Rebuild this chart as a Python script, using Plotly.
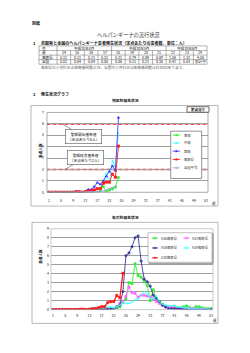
import plotly.graph_objects as go

W, H = 250, 353
FONT = "Noto Sans CJK JP"

# ---------------- data ----------------
table_weeks = [14, 15, 16, 17, 18, 19, 20, 21, 22, 23, 24]
table_months = ["平成30年4月", "平成30年5月", "平成30年6月"]
table_month_spans = [4, 4, 3]
table_row_labels = ["月", "週", "鳥取県", "全国"]
table_tottori = ["0.11", "0.11", "0.21", "0.32", "0.32", "0.79", "0.89", "0.89", "1.58", "1.32", "4.05"]
table_national = ["0.02", "0.04", "0.04", "0.05", "0.06", "0.11", "0.21", "0.35", "0.42", "0.53", "集計中"]

weeks_2018 = list(range(1, 25))
east = [0, 0, 0, 0, 0, 0, 0, 0, 0, 0, 0, 0, 0, 0, 0, 0, 0, 0.1, 0.5, 0.05, 0.2, 0.3, 0.45, 1.3]
middle = [0, 0, 0, 0, 0, 0, 0, 0, 0, 0, 0, 0, 0, 0.1, 0.1, 0.2, 0.3, 0.4, 0.8, 1.7, 0.8, 2.8, 2.2, 5.2]
west = [0, 0, 0, 0, 0, 0, 0, 0, 0, 0.1, 0, 0, 0.1, 0.25, 0.25, 0.5, 0.85, 0.7, 1.0, 1.4, 1.8, 2.3, 1.9, 6.55]
tottori = [0, 0, 0, 0, 0, 0, 0, 0, 0, 0.05, 0.05, 0, 0.05,
           0.11, 0.11, 0.21, 0.32, 0.32, 0.79, 0.89, 0.89, 1.58, 1.32, 4.05]
national = [0.02, 0.01, 0.01, 0.01, 0.01, 0.01, 0.01, 0.01, 0.01, 0.01, 0.01, 0.01, 0.02,
            0.02, 0.04, 0.04, 0.05, 0.06, 0.11, 0.21, 0.35, 0.42, 0.53, None]
region_names = ["東部", "中部", "西部", "鳥取県", "全国平均"]
region_colors = ["#33ee33", "#44ffff", "#3f3fff", "#ff1a1a", "#a8a8e8"]
region_symbols = ["diamond", "x-thin-open", "triangle-up", "square", "line-ew-open"]

alert_start = 6
alert_end = 2

weeks_all = list(range(1, 54))
h26 = [0] * 13 + [0, 0, 0, 0, 0.05, 0.05, 0.1, 0.1, 0.2, 0.3, 0.8, 1.2, 3.0, 2.9, 5.1, 3.8, 3.6,
                  3.2, 2.7, 1.0, 2.2, 1.2, 0.9, 0.6, 0.4, 0.3, 0.3, 0.2, 0.2, 0.2, 0.3, 0.4, 0.2,
                  0.1, 0.3, 0.3, 0.2, 0.1, 0.1, 0.1]
h27 = [0] * 13 + [0, 0, 0, 0, 0, 0, 0, 0.1, 0.3, 0.7, 0.9, 1.5, 2.5, 1.9, 1.8, 1.4, 1.6,
                  1.6, 1.5, 1.4, 1.2, 0.9, 0.7, 0.5, 0.3, 0.3, 0.2, 0.2, 0.1, 0.1, 0.1, 0.1, 0.1,
                  0.1, 0.05, 0.05, 0.05, 0.05, 0, 0]
h28 = [0] * 13 + [0, 0, 0, 0, 0, 0.05, 0.05, 0.1, 0.3, 0.5, 2.0, 6.0, 6.3, 7.0, 8.0, 8.2, 5.4,
                  3.4, 3.1, 2.6, 1.6, 1.3, 0.9, 0.5, 0.3, 0.1, 0.1, 0.1, 0.1, 0.05, 0.05, 0, 0,
                  0, 0, 0, 0, 0, 0, 0]
h29 = [0] * 12 + [0.05, 0.1, 0.1, 0.1, 0.2, 0.2, 0.3, 0.3, 0.2, 0.3, 0.5, 0.8, 0.7, 0.7, 0.8, 1.1,
                  1.1, 1.6, 2.0, 1.7, 1.3, 1.2, 1.5, 0.9, 0.6, 0.5, 0.4, 0.4, 0.5, 0.3, 0.3, 0.2,
                  0.2, 0.1, 0.1, 0.1, 0.1, 0.1, 0.05, 0.05, 0]
h30 = tottori
year_names = ["H26鳥取県", "H27鳥取県", "H28鳥取県", "H29鳥取県", "H30鳥取県"]
year_colors = ["#33ee33", "#ff66ff", "#3a3a99", "#44ffff", "#ff1a1a"]
year_symbols = ["square", "square", "diamond", "x-thin-open", "square"]

xticks = list(range(1, 54, 4))


def px(x):
    return x / W


def py(y):
    return 1 - y / H


fig = go.Figure()

# ---------------- chart 1 traces ----------------
for name, vals, col, sym in zip(region_names, [east, middle, west, tottori, national],
                                region_colors, region_symbols):
    fig.add_trace(go.Scatter(x=weeks_2018, y=vals, mode="lines+markers", name=name,
                             line=dict(color=col, width=0.9),
                             marker=dict(color=col, size=2.4, symbol=sym, line=dict(width=0.6, color=col)),
                             xaxis="x", yaxis="y", showlegend=False))

# ---------------- chart 2 traces ----------------
for name, vals, col, sym in zip(year_names, [h26, h27, h28, h29, h30], year_colors, year_symbols):
    xs = weeks_all[:len(vals)]
    fig.add_trace(go.Scatter(x=xs, y=vals, mode="lines+markers", name=name,
                             line=dict(color=col, width=1.3 if name.startswith("H30") else 0.9),
                             marker=dict(color=col, size=2.2, symbol=sym, line=dict(width=0.6, color=col)),
                             xaxis="x2", yaxis="y2", showlegend=False))

shapes = []
ann = []


def text(x, y, s, size=4, xanchor="left", color="#111", bold=False, yanchor="middle"):
    if bold:
        s = "<b>" + s + "</b>"
    ann.append(dict(x=px(x), y=py(y), xref="paper", yref="paper", text=s, showarrow=False,
                    xanchor=xanchor, yanchor=yanchor, font=dict(family=FONT, size=size, color=color)))


def line(x0, y0, x1, y1, color="#777", width=0.6, dash="solid"):
    shapes.append(dict(type="line", xref="paper", yref="paper", x0=px(x0), y0=py(y0), x1=px(x1), y1=py(y1),
                       line=dict(color=color, width=width, dash=dash)))


def rect(x0, y0, x1, y1, color="#888", width=0.6, fill="rgba(0,0,0,0)"):
    shapes.append(dict(type="rect", xref="paper", yref="paper", x0=px(x0), y0=py(y0), x1=px(x1), y1=py(y1),
                       line=dict(color=color, width=width), fillcolor=fill, layer="above"))


# ---------------- header texts ----------------
text(30, 20, "別紙", size=4, bold=True)
text(128, 32, "ヘルパンギーナの流行状況", size=5.2, xanchor="center", color="#333")
text(31, 40.5, "1", size=4, bold=True)
text(38.5, 40.5, "鳥取県と全国のヘルパンギーナ患者発生状況（定点あたりの患者数、単位：人）", size=4.05, bold=True)

# ---------------- table ----------------
tx0, tx1 = 39, 207
lab_w = 18
col_w = (tx1 - tx0 - lab_w) / len(table_weeks)
ty0, row_h = 43.5, 4.65
nrows = len(table_row_labels)
ty1 = ty0 + row_h * nrows
for i in range(nrows + 1):
    line(tx0, ty0 + i * row_h, tx1, ty0 + i * row_h, color="#666", width=0.5)
line(tx0, ty0, tx0, ty1, color="#666", width=0.5)
line(tx1, ty0, tx1, ty1, color="#666", width=0.5)
line(tx0 + lab_w, ty0, tx0 + lab_w, ty1, color="#666", width=0.5)
month_bounds = []
acc = 0
for s in table_month_spans:
    acc += s
    month_bounds.append(acc)
for j in range(1, len(table_weeks)):
    xx = tx0 + lab_w + j * col_w
    if j in month_bounds:
        line(xx, ty0, xx, ty1, color="#666", width=0.5)
    else:
        line(xx, ty0 + row_h, xx, ty1, color="#666", width=0.5)
for i, lab in enumerate(table_row_labels):
    cy = ty0 + (i + 0.5) * row_h
    text(tx0 + 1.2, cy, lab, size=3.6, xanchor="left")
start = 0
for m, s in zip(table_months, table_month_spans):
    cx = tx0 + lab_w + (start + s / 2) * col_w
    text(cx, ty0 + 0.5 * row_h, m, size=3.6, xanchor="center")
    start += s
for j, (wk, a, b) in enumerate(zip(table_weeks, table_tottori, table_national)):
    cx = tx0 + lab_w + (j + 0.5) * col_w
    text(cx, ty0 + 1.5 * row_h, str(wk), size=3.6, xanchor="center")
    text(cx, ty0 + 2.5 * row_h, a, size=3.6, xanchor="center")
    text(cx, ty0 + 3.5 * row_h, b, size=3.6, xanchor="center")
text(39, 65.5, "鳥取県の小児科定点医療機関数は19、全国の小児科定点医療機関数は約3000あります。",
     size=3.7, color="#666")

# ---------------- section 2 ----------------
text(31, 92, "2", size=4, bold=True)
text(38.5, 92, "発生状況グラフ", size=4, bold=True)
text(125, 98.5, "地区別発生状況", size=3.8, xanchor="center", bold=True)
text(125, 217.5, "年次別発生状況", size=3.8, xanchor="center", bold=True)

# outer frames
rect(31, 104, 218, 206, color="#999", width=0.7)
rect(32, 222.5, 218, 325, color="#999", width=0.7)

# chart 1 plot border
shapes.append(dict(type="rect", xref="x domain", yref="y domain", x0=0, y0=0, x1=1, y1=1,
                   line=dict(color="#888", width=0.7), layer="above"))
shapes.append(dict(type="rect", xref="x2 domain", yref="y2 domain", x0=0, y0=0, x1=1, y1=1,
                   line=dict(color="#aaa", width=0.6), layer="above"))

# alert lines
for lv in [alert_start, alert_end]:
    shapes.append(dict(type="line", xref="x domain", yref="y", x0=0, x1=1, y0=lv, y1=lv,
                       line=dict(color="#ffb3b3", width=1.6), layer="below"))
    shapes.append(dict(type="line", xref="x domain", yref="y", x0=0, x1=1, y0=lv, y1=lv,
                       line=dict(color="#ff2a2a", width=1.6, dash="3px,3px"), layer="below"))

# callouts
ann.append(dict(x=5.3, y=alert_start, xref="x", yref="y", ax=22, ay=13, showarrow=True, arrowhead=0,
                arrowwidth=0.6, arrowcolor="#555",
                text="警報開始基準値<br>（定点あたり6人）", font=dict(family=FONT, size=3.7, color="#111"),
                bgcolor="white", bordercolor="#555", borderwidth=0.6, borderpad=2.2, align="center"))
ann.append(dict(x=6.3, y=alert_end, xref="x", yref="y", ax=20, ay=-12, showarrow=True, arrowhead=0,
                arrowwidth=0.6, arrowcolor="#555",
                text="警報終息基準値<br>（定点あたり2人）", font=dict(family=FONT, size=3.7, color="#111"),
                bgcolor="white", bordercolor="#555", borderwidth=0.6, borderpad=2.2, align="center"))

# 定点当り box
rect(187, 105.2, 209, 110.8, color="#444", width=0.8, fill="white")
text(198, 108, "定点当り", size=3.5, xanchor="center", bold=True)

# axis titles
ann.append(dict(x=px(36.5), y=py(150), xref="paper", yref="paper", text="<b>患者人数</b>", textangle=-90,
                showarrow=False, font=dict(family=FONT, size=3.6, color="#111")))
ann.append(dict(x=px(36.5), y=py(267), xref="paper", yref="paper", text="<b>患者人数</b>", textangle=-90,
                showarrow=False, font=dict(family=FONT, size=3.6, color="#111")))
text(213.5, 203.5, "週", size=3.4, xanchor="center")
text(214.5, 322.5, "週", size=3.4, xanchor="center")

# legend chart 1
rect(170.7, 130, 201.7, 178, color="#666", width=0.7, fill="white")
leg1_y = [134, 142, 150.3, 158.7, 167.2]
for name, col, yy in zip(region_names, region_colors, leg1_y):
    line(172.7, yy, 180, yy, color=col, width=0.9)
    rect(175.6, yy - 0.8, 177.2, yy + 0.8, color=col, width=0.4, fill=col)
    text(182.3, yy, name, size=3.3, color="#333")

# legend chart 2
rect(149, 234, 213, 264, color="#666", width=0.8, fill="rgba(0,0,0,0)")
rect(148, 233, 212, 263, color="#999", width=0.6, fill="white")
leg2_pos = [(152, 238.5), (183.5, 238.5), (152, 248.5), (183.5, 248.5), (152, 258.5)]
for name, col, (xx, yy) in zip(year_names, year_colors, leg2_pos):
    line(xx, yy, xx + 6, yy, color=col, width=1.0)
    rect(xx + 2.2, yy - 0.7, xx + 3.8, yy + 0.7, color=col, width=0.4, fill=col)
    text(xx + 6.6, yy, name, size=3.3, color="#333")

axis_font = dict(family=FONT, size=3.5, color="#222")
fig.update_layout(
    width=W, height=H, autosize=False,
    margin=dict(l=0, r=0, t=0, b=0),
    paper_bgcolor="white", plot_bgcolor="white",
    showlegend=False,
    shapes=shapes, annotations=ann,
    xaxis=dict(domain=[px(47), px(208)], range=[0.34, 53.66], tickvals=xticks, tickfont=axis_font,
               showgrid=False, zeroline=False, ticks="", ticklabelstandoff=5, fixedrange=True),
    yaxis=dict(domain=[py(192), py(111)], range=[0, 7], dtick=1, tickfont=axis_font,
               showgrid=True, gridcolor="#a0a0a0", gridwidth=0.5, zeroline=False, ticks="",
               ticklabelstandoff=2, fixedrange=True),
    xaxis2=dict(domain=[px(51), px(213)], range=[0.34, 53.66], tickvals=xticks, tickfont=axis_font,
                showgrid=False, zeroline=False, ticks="", ticklabelstandoff=3, anchor="y2", fixedrange=True),
    yaxis2=dict(domain=[py(311), py(229)], range=[0, 9], dtick=1, tickfont=axis_font,
                showgrid=True, gridcolor="#a0a0a0", gridwidth=0.5, zeroline=False, ticks="",
                ticklabelstandoff=1, anchor="x2", fixedrange=True),
)

fig.write_html("out.html")
